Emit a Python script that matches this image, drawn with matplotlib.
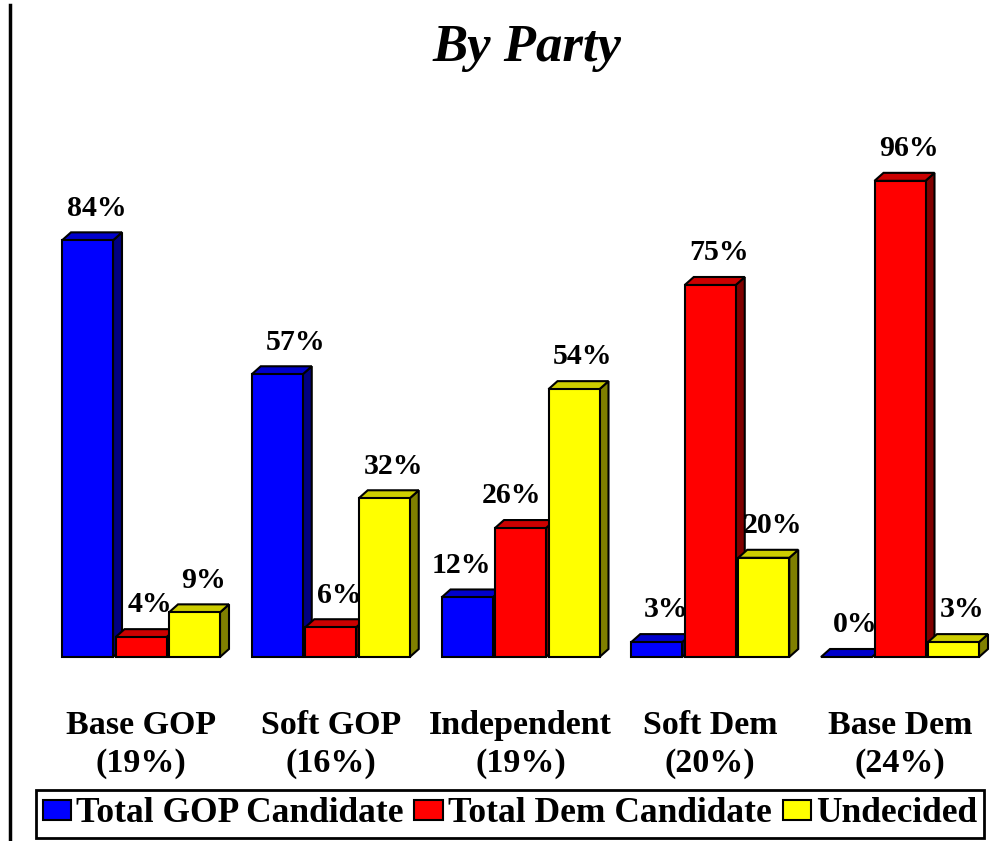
import numpy as np
import matplotlib
matplotlib.use("Agg")
import matplotlib.pyplot as plt
from matplotlib.patches import Polygon, Patch
from matplotlib.lines import Line2D

plt.rcParams['font.family'] = ['Liberation Serif', 'DejaVu Serif']
plt.rcParams['font.weight'] = 'bold'

# data
groups = ['Base GOP\n(19%)', 'Soft GOP\n(16%)', 'Independent\n(19%)',
          'Soft Dem\n(20%)', 'Base Dem\n(24%)']
series = ['Total GOP Candidate', 'Total Dem Candidate', 'Undecided']
gop = [84, 57, 12, 3, 0]
dem = [4, 6, 26, 75, 96]
undecided = [9, 32, 54, 20, 3]

# face colours: front, top, side
colors = [('#0000FF', '#0000CC', '#000080'),
          ('#FF0000', '#CC0000', '#800000'),
          ('#FFFF00', '#CCCC00', '#808000')]

# label nudges in pixels (series, group) -> dx
nudge = {(0, 1): 9, (0, 2): -15, (1, 2): -18}

W, H = 993, 841
fig = plt.figure(figsize=(W / 100, H / 100), dpi=100)

# axes mapped so 0..100 % spans pixel rows 657..161
x_lo, x_hi = -0.6, 4.4
px_per_unit = 189.75
ax_left = 141 - 0.6 * px_per_unit
ax_w = (x_hi - x_lo) * px_per_unit
ax = fig.add_axes([ax_left / W, (H - 657) / H, ax_w / W, 496 / H])
ax.set_xlim(x_lo, x_hi)
ax.set_ylim(0, 100)
for s in ax.spines.values():
    s.set_visible(False)
ax.set_yticks([])

step = 53.5 / px_per_unit
bw = 51 / px_per_unit
dx = 9 / px_per_unit
dy = 8 / 4.96

x = np.arange(len(groups))
values = [gop, dem, undecided]
z = 2
for gi in range(len(groups)):
    for si, vals in enumerate(values):
        h = vals[gi]
        x0 = x[gi] + (si - 1) * step - bw / 2
        front_c, top_c, side_c = colors[si]
        kw = dict(edgecolor='black', linewidth=1.5, joinstyle='miter', clip_on=False)
        side = Polygon([(x0 + bw, 0), (x0 + bw + dx, dy), (x0 + bw + dx, h + dy), (x0 + bw, h)],
                       facecolor=side_c, zorder=z, **kw)
        top = Polygon([(x0, h), (x0 + bw, h), (x0 + bw + dx, h + dy), (x0 + dx, h + dy)],
                      facecolor=top_c, zorder=z, **kw)
        ax.add_patch(side)
        ax.add_patch(top)
        if h > 0:
            front = Polygon([(x0, 0), (x0 + bw, 0), (x0 + bw, h), (x0, h)],
                            facecolor=front_c, zorder=z, **kw)
            ax.add_patch(front)
        z += 1
        off = 9 + nudge.get((si, gi), 0)
        ax.annotate(f'{h}%', xy=(x0 + bw / 2, h + dy), xytext=(off * 0.72, 12),
                    textcoords='offset points', ha='center', va='baseline',
                    fontsize=21.5, fontweight='bold', zorder=50, annotation_clip=False)

ax.set_xticks(x)
ax.set_xticklabels(groups, fontsize=24.5, fontweight='bold', linespacing=1.3)
ax.tick_params(axis='x', length=0, pad=38)

fig.text(527 / W, 1 - 48 / H, 'By Party', ha='center', va='center',
         fontsize=38, fontweight='bold', fontstyle='italic')

# left rule
fig.add_artist(Line2D([10 / W, 10 / W], [0, 1 - 5 / H], color='black', linewidth=2.5))

handles = [Patch(facecolor=c[0], edgecolor='black', linewidth=1.5) for c in colors]
leg = fig.legend(handles, series, loc='center', ncol=3,
                 bbox_to_anchor=(510 / W, 1 - 814 / H), frameon=True, fancybox=False,
                 edgecolor='black', framealpha=1, handlelength=0.8, handleheight=0.5,
                 handletextpad=0.15, columnspacing=0.3, borderpad=0.2, borderaxespad=0,
                 prop={'family': 'Liberation Serif', 'weight': 'bold', 'size': 25.5})
leg.get_frame().set_linewidth(2)

fig.savefig('out.png', dpi=100)
